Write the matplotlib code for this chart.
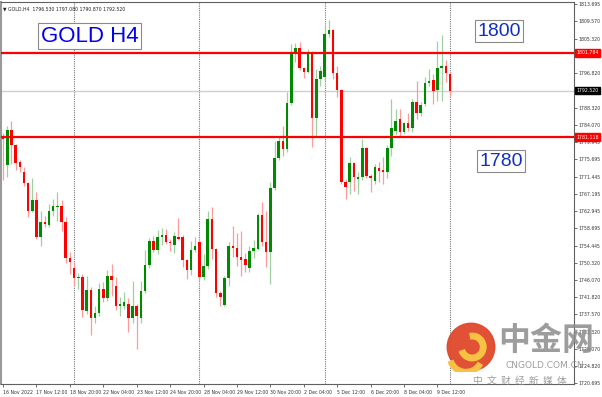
import matplotlib.pyplot as plt
import matplotlib.transforms as mtransforms
from matplotlib.patches import Circle, Wedge
import numpy as np

# GOLD H4 candles (open, high, low, close), oldest first
opens = [1781.5, 1774.24, 1782.91, 1779.15, 1774.9, 1772.45, 1769.82, 1763.02, 1765.72, 1756.64,
         1760.17, 1759.58, 1763.02, 1763.9, 1764.25, 1760.17, 1751.4, 1749.03, 1746.42, 1746.82,
         1738.39, 1743.62, 1736.6, 1737.9, 1743.8, 1741.58, 1747.06, 1744.5, 1739.7, 1739.7,
         1740.2, 1736.6, 1739.7, 1736.6, 1743.38, 1749.7, 1755.65, 1753.37, 1756.49, 1757.05,
         1755.4, 1754.6, 1756.7, 1756.6, 1750.99, 1748.46, 1753.4, 1755.26, 1746.82, 1749.52,
         1760.97, 1753.6, 1742.8, 1739.87, 1746.57, 1754.28, 1754.0, 1751.7, 1751.16, 1749.03,
         1753.1, 1753.6, 1762.04, 1755.26, 1752.8, 1768.52, 1775.88, 1780.21, 1778.17, 1789.39,
         1801.49, 1802.89, 1797.98, 1797.15, 1801.91, 1785.71, 1795.36, 1795.77, 1806.4, 1807.39,
         1796.83, 1792.65, 1770.0, 1770.0, 1774.73, 1770.8, 1771.22, 1778.34, 1771.61, 1770.39,
         1773.43, 1773.09, 1772.45, 1778.34, 1782.66, 1785.53, 1782.42, 1784.48, 1783.25, 1789.63,
         1787.01, 1789.22, 1794.30, 1795.11, 1792.65, 1797.98, 1798.62, 1796.53]
highs = [1782.2, 1783.74, 1785.04, 1779.4, 1775.54, 1773.68, 1770.0, 1770.97, 1767.54, 1762.87,
         1761.64, 1764.66, 1765.9, 1767.68, 1765.72, 1761.4, 1752.95, 1750.5, 1747.72, 1747.48,
         1747.06, 1744.2, 1739.7, 1745.27, 1745.44, 1748.53, 1749.93, 1746.7, 1741.76, 1742.98,
         1741.7, 1745.76, 1740.2, 1745.8, 1753.44, 1756.24, 1756.88, 1758.28, 1758.77, 1758.5,
         1756.2, 1757.9, 1761.15, 1757.1, 1751.3, 1755.65, 1756.5, 1756.24, 1752.39, 1763.02,
         1763.85, 1754.0, 1743.3, 1747.0, 1755.26, 1759.19, 1757.7, 1758.1, 1752.64, 1754.28,
         1755.9, 1762.6, 1765.08, 1763.02, 1769.99, 1780.2, 1781.43, 1783.89, 1792.09, 1803.95,
         1804.12, 1804.5, 1798.2, 1802.7, 1802.2, 1797.8, 1798.6, 1808.44, 1809.91, 1807.6,
         1798.62, 1793.0, 1770.8, 1776.13, 1775.0, 1772.45, 1780.62, 1778.6, 1772.0, 1774.5,
         1774.90, 1776.13, 1779.15, 1790.44, 1787.99, 1787.99, 1784.72, 1786.93, 1790.44, 1794.94,
         1789.63, 1795.77, 1797.81, 1796.58, 1804.76, 1806.16, 1800.09, 1797.08]
lows = [1770.5, 1771.37, 1774.49, 1773.0, 1772.45, 1769.16, 1761.4, 1762.7, 1756.0, 1754.43,
        1758.94, 1758.94, 1761.8, 1760.56, 1758.11, 1750.18, 1747.48, 1744.46, 1743.8, 1736.85,
        1737.7, 1732.58, 1735.6, 1737.2, 1740.68, 1741.0, 1742.15, 1738.6, 1737.24, 1739.0,
        1733.16, 1735.6, 1729.06, 1735.6, 1742.8, 1749.0, 1752.8, 1752.4, 1754.6, 1754.8,
        1753.2, 1752.56, 1755.9, 1749.27, 1746.25, 1747.2, 1753.0, 1745.8, 1746.0, 1748.7,
        1751.16, 1741.9, 1739.7, 1739.6, 1744.6, 1751.57, 1749.5, 1747.06, 1747.9, 1747.9,
        1751.33, 1753.3, 1754.5, 1749.12, 1745.02, 1768.2, 1775.5, 1776.52, 1777.5, 1789.0,
        1799.46, 1797.5, 1795.53, 1796.8, 1778.59, 1781.43, 1793.56, 1795.0, 1805.6, 1795.36,
        1790.86, 1769.6, 1765.89, 1767.1, 1767.9, 1767.1, 1770.5, 1771.0, 1767.54, 1769.5,
        1770.00, 1769.57, 1770.97, 1776.52, 1781.85, 1781.43, 1781.85, 1782.66, 1782.27, 1785.53,
        1786.34, 1788.65, 1793.71, 1789.3, 1790.03, 1790.03, 1794.54, 1790.87]
closes = [1780.6, 1782.91, 1779.15, 1774.73, 1773.75, 1769.82, 1763.02, 1765.72, 1756.49, 1760.17,
          1759.75, 1763.02, 1764.1, 1764.2, 1760.17, 1751.33, 1750.5, 1746.42, 1746.8, 1738.64,
          1743.62, 1736.6, 1737.9, 1743.8, 1741.58, 1747.06, 1746.0, 1739.7, 1740.2, 1740.53,
          1736.6, 1739.7, 1737.1, 1743.38, 1749.7, 1755.65, 1753.37, 1756.49, 1757.05, 1755.4,
          1755.0, 1756.88, 1756.1, 1750.99, 1748.46, 1753.44, 1754.43, 1746.82, 1749.52, 1760.97,
          1753.6, 1742.74, 1741.76, 1746.57, 1754.28, 1753.9, 1751.57, 1751.0, 1749.7, 1753.12,
          1753.94, 1762.04, 1755.26, 1752.8, 1768.59, 1775.88, 1780.21, 1778.17, 1789.39, 1801.91,
          1802.89, 1797.98, 1797.15, 1801.91, 1785.71, 1795.36, 1797.39, 1806.40, 1807.39, 1796.83,
          1792.65, 1770.0, 1768.77, 1774.73, 1771.22, 1771.22, 1778.34, 1771.61, 1771.05, 1773.67,
          1772.84, 1772.45, 1778.34, 1783.25, 1785.12, 1782.42, 1784.48, 1783.25, 1789.63, 1787.01,
          1788.97, 1794.30, 1794.94, 1792.48, 1797.98, 1798.62, 1796.83, 1792.52]

time_labels = ['16 Nov 2022', '17 Nov 12:00', '18 Nov 20:00', '22 Nov 04:00', '23 Nov 12:00',
               '24 Nov 20:00', '28 Nov 04:00', '29 Nov 12:00', '30 Nov 20:00', '2 Dec 04:00',
               '5 Dec 12:00', '6 Dec 20:00', '8 Dec 04:00', '9 Dec 12:00']
label_bars = [0, 8, 16, 24, 32, 40, 48, 56, 64, 72, 80, 88, 96, 104]
week_bars = [17, 47, 77, 107]

price_ticks = [1813.695, 1809.570, 1805.320, 1801.070, 1796.820, 1792.570, 1788.320, 1784.070,
               1779.945, 1775.695, 1771.445, 1767.195, 1762.945, 1758.695, 1754.445, 1750.320,
               1746.070, 1741.820, 1737.570, 1733.320, 1729.070, 1724.820, 1720.695]

resistance = 1801.784
support = 1781.118
last_price = 1792.520

o = np.array(opens)
h = np.array(highs)
l = np.array(lows)
c = np.array(closes)
x = np.arange(len(o))
up = c >= o

W, H = 602, 397
fig = plt.figure(figsize=(W / 100, H / 100), dpi=100)
ax = fig.add_axes([1 / W, 13 / H, 573 / W, 382 / H])

ax.set_xlim(-0.5, 136.7)
ax.set_ylim(1720.5, 1814.3)

# wicks then bodies
ax.vlines(x[up], l[up], h[up], color='#9fd09f', linewidth=0.9, zorder=2)
ax.vlines(x[~up], l[~up], h[~up], color='#ff9a9a', linewidth=0.9, zorder=2)
body_lo = np.minimum(o, c)
body_h = np.maximum(np.abs(c - o), 0.35)
ax.bar(x[up], body_h[up], bottom=body_lo[up], width=0.6, color='#008a00', zorder=3)
ax.bar(x[~up], body_h[~up], bottom=body_lo[~up], width=0.6, color='#ff0000', zorder=3)

# week separators
for b in week_bars:
    ax.axvline(b, color='#777777', linestyle=(0, (1, 1)), linewidth=0.8, zorder=1)

# current price and horizontal levels
ax.axhline(last_price, color='#d0d0d0', linewidth=1.0, zorder=1)
ax.axhline(resistance, color='#ff0000', linewidth=1.6, zorder=4)
ax.axhline(support, color='#ff0000', linewidth=1.6, zorder=4)

# axes styling
for s in ax.spines.values():
    s.set_color('#606060')
    s.set_linewidth(0.8)
ax.spines['left'].set_linewidth(1.5)
ax.spines['left'].set_color('#999999')
ax.yaxis.tick_right()
ax.set_yticks(price_ticks)
ax.set_yticklabels([f'{v:.3f}' for v in price_ticks])
ax.tick_params(axis='y', labelsize=3.3, length=2, width=0.5, pad=1, colors='#333333')
ax.set_xticks(label_bars)
ax.set_xticklabels(time_labels, ha='left')
ax.tick_params(axis='x', labelsize=3.3, length=2, width=0.5, pad=2, colors='#333333')

# price boxes on the right axis
tr = mtransforms.blended_transform_factory(ax.transAxes, ax.transData)
for val, bg in [(resistance, '#ff0000'), (support, '#ff0000'), (last_price, '#000000')]:
    ax.text(1.004, val, f'{val:.3f}', transform=tr, fontsize=3.3, color='white', va='center',
            ha='left', zorder=10, clip_on=False,
            bbox=dict(boxstyle='square,pad=0.25', facecolor=bg, edgecolor=bg))

# header line
ax.text(0.004, 0.988, '\u25bc GOLD,H4  1796.530 1797.080 1790.870 1792.520', transform=ax.transAxes,
        fontsize=3.3, va='top', ha='left', color='#222222')

# annotation labels
box = dict(boxstyle='square,pad=0.12', facecolor='white', edgecolor='#8a8a8a', linewidth=0.8)
fig.text(89.5 / W, 1 - 36 / H, 'GOLD H4', fontsize=16, color='#0000ee', family='Liberation Sans',
         ha='center', va='center', bbox=box, zorder=20)
fig.text(499 / W, 1 - 31 / H, '1800', fontsize=14, color='#1030c0', family='Liberation Sans',
         ha='center', va='center', bbox=box, zorder=20)
fig.text(501 / W, 1 - 161 / H, '1780', fontsize=14, color='#1030c0', family='Liberation Sans',
         ha='center', va='center', bbox=box, zorder=20)

# watermark
cjk = ['Noto Sans CJK SC', 'DejaVu Sans']
logo_ax = fig.add_axes([446 / W, 1 - 372 / H, 50 / W, 50 / H])
logo_ax.set_xlim(-1, 1)
logo_ax.set_ylim(-1, 1)
logo_ax.set_aspect('equal')
logo_ax.axis('off')
logo_ax.add_patch(Circle((0, 0), 0.95, color='#e0482a', alpha=0.95))
logo_ax.add_patch(Wedge((0.05, 0.0), 0.55, 200, 100, width=0.22, color='#f7c244'))
logo_ax.add_patch(Wedge((-0.2, -0.35), 0.75, 200, 330, width=0.2, color='#f7c244'))
fig.text(546 / W, 1 - 341 / H, '中金网', fontsize=23, fontweight='bold', color='#8c8c8c',
         family=cjk, ha='center', va='center', alpha=0.85, zorder=30)
fig.text(545 / W, 1 - 366 / H, 'CNGOLD.COM.CN', fontsize=6.5, color='#8c8c8c',
         ha='center', va='center', alpha=0.85, zorder=30)
fig.text(520 / W, 1 - 381 / H, '中  文  财  经  新  媒  体', fontsize=7, color='#8c8c8c',
         family=cjk, ha='center', va='center', alpha=0.85, zorder=30)

fig.savefig('out.png', dpi=100, facecolor='white')
plt.close(fig)
